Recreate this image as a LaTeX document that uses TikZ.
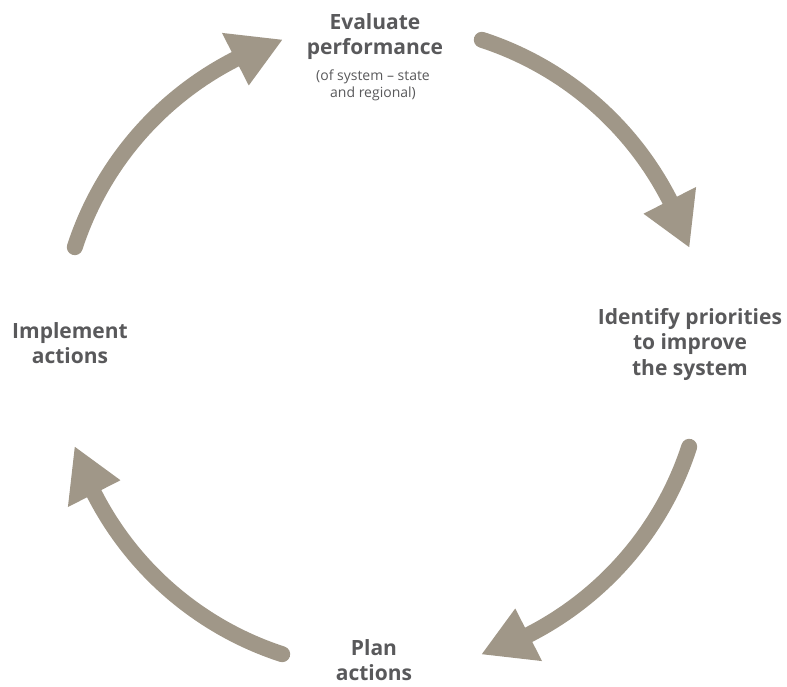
\documentclass[tikz,border=0pt]{standalone}
\usepackage{fontspec}
\setmainfont{Open Sans}
\definecolor{arcclr}{RGB}{160,151,136}
\definecolor{txtclr}{RGB}{89,89,91}
\tikzset{
  cyclearc/.style={draw=arcclr, line width=16pt, line cap=round},
  cyclehead/.style={fill=arcclr, draw=none},
  mainlabel/.style={align=center, inner sep=0pt, anchor=north, text=txtclr,
    font=\bfseries\fontsize{21}{25.5}\selectfont},
  sublabel/.style={align=center, inner sep=0pt, anchor=north, text=txtclr,
    font=\fontsize{14}{17}\selectfont}
}
\begin{document}
\begin{tikzpicture}[x=1pt,y=1pt]
\useasboundingbox (0,0) rectangle (787,687);
\coordinate (c) at (382,340);
\foreach \a/\n in {0/1,90/2,180/3,270/4}{
  \coordinate (s\n) at ([shift={({72-\a}:323)}]c);
  \coordinate (b\n) at ([shift={({27-\a}:323)}]c);
  \coordinate (bi\n) at ([shift={({27-\a}:293.5)}]c);
  \coordinate (bo\n) at ([shift={({27-\a}:352.5)}]c);
  \coordinate (t\n) at ([shift={({18-\a}:323)}]c);
  \draw[cyclearc] (s\n) arc[start angle={72-\a}, end angle={27-\a}, radius=323pt];
  \fill[cyclehead] (bi\n) -- (bo\n) -- (t\n) -- cycle;
}
\node[mainlabel] (eval) at (375,674) {Evaluate\\performance};
\node[sublabel] (evalsub) at (373,617) {(of system -- state\\and regional)};
\node[mainlabel] (ident) at (690,379) {Identify priorities\\to improve\\the system};
\node[mainlabel] (plan) at (374,48) {Plan\\actions};
\node[mainlabel] (impl) at (70,365) {Implement\\actions};
\end{tikzpicture}
\end{document}
